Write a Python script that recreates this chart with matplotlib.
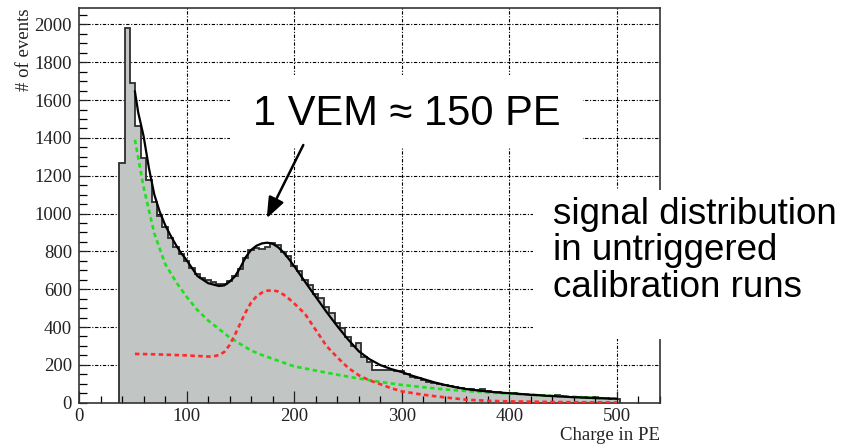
import numpy as np
import matplotlib
matplotlib.use("Agg")
import matplotlib.pyplot as plt
from matplotlib.patches import Rectangle, FancyArrowPatch
from matplotlib.ticker import MultipleLocator

# ---------------- data ----------------
bin_edges = np.arange(37.5, 503, 5.0)  # 93 bins, width 5 PE
hist_counts = [
    1265, 1980, 1690, 1462, 1292, 1177, 1060, 985, 930, 870,
    825, 785, 750, 712, 678, 660, 648, 638, 628, 625,
    645, 672, 705, 765, 805, 820, 815, 822, 845, 832,
    795, 775, 725, 695, 650, 622, 575, 552, 505, 472,
    420, 395, 349, 300, 314, 243, 217, 173, 173, 173,
    175, 170, 168, 150, 138, 130, 122, 112, 105, 98,
    92, 88, 82, 78, 74, 70, 66, 70, 60, 58,
    55, 53, 52, 50, 47, 45, 43, 41, 40, 38,
    36, 40, 34, 32, 31, 29, 28, 27, 32, 25,
    24, 22, 20,
]

fit_x = [52, 55, 60, 65, 70, 75, 80, 85, 90, 95, 100, 110, 120, 130, 135, 140, 145,
         150, 155, 160, 165, 170, 175, 180, 185, 190, 195, 200, 210, 220, 230, 240,
         250, 260, 270, 280, 290, 300, 310, 320, 330, 340, 350, 360, 370, 380, 390,
         400, 420, 440, 460, 480, 500]
fit_y = [1645, 1535, 1410, 1240, 1100, 1010, 940, 885, 835, 790, 754, 670, 632, 617,
         620, 640, 668, 715, 770, 808, 830, 842, 846, 840, 822, 795, 760, 722, 640,
         560, 480, 405, 335, 272, 230, 199, 178, 162, 142, 125, 108, 94, 82, 72, 65,
         59, 54, 50, 42, 35, 29, 24, 21]

bg_x = [52, 60, 70, 80, 90, 100, 110, 120, 130, 140, 150, 160, 170, 180, 190, 200,
        220, 240, 260, 280, 300, 320, 340, 360, 380, 400, 420, 440, 460, 480, 500]
bg_y = [1390, 1140, 895, 735, 640, 560, 490, 435, 390, 345, 310, 276, 252, 232, 212,
        192, 170, 148, 128, 110, 94, 82, 70, 62, 54, 48, 42, 36, 31, 26, 20]

vem_x = [52, 60, 70, 80, 90, 100, 110, 120, 125, 130, 135, 140, 145, 150, 155, 160,
         165, 170, 175, 180, 185, 190, 195, 200, 210, 220, 230, 240, 250, 260, 270,
         280, 290, 300, 320, 340, 360, 380, 400, 450, 500]
vem_y = [258, 257, 256, 254, 252, 250, 247, 244, 245, 252, 268, 305, 360, 420, 480,
         530, 562, 582, 592, 594, 588, 572, 550, 525, 470, 385, 300, 240, 185, 145,
         118, 98, 77, 60, 42, 28, 16, 10, 7, 3, 1]

x_ticks = [0, 100, 200, 300, 400, 500]
y_ticks = [0, 200, 400, 600, 800, 1000, 1200, 1400, 1600, 1800, 2000]

# ---------------- figure ----------------
W, H = 854, 445
fig = plt.figure(figsize=(W / 100, H / 100), dpi=100)
fig.patch.set_facecolor("white")

ax_l, ax_r, ax_t, ax_b = 79, 660, 8.3, 402.7
ax = fig.add_axes([ax_l / W, 1 - ax_b / H, (ax_r - ax_l) / W, (ax_b - ax_t) / H])
ax.set_xlim(0, 540)
ax.set_ylim(0, 2085)

serif = ["Liberation Serif", "DejaVu Serif"]
sans = ["Liberation Sans", "DejaVu Sans"]

# grid
grid_ls = (0, (3, 1.5, 1, 1.5))
for xv in x_ticks[1:]:
    ax.axvline(xv, color="black", lw=0.8, ls=grid_ls, zorder=0.5)
for yv in y_ticks[1:]:
    ax.axhline(yv, color="black", lw=0.8, ls=grid_ls, zorder=0.5)

# histogram
ax.stairs(hist_counts, bin_edges, fill=True, color="#c1c5c4", zorder=1, baseline=0)
ax.stairs(hist_counts, bin_edges, color="#2e2e2e", lw=1.3, zorder=2, baseline=0)

# fit components
ax.plot(bg_x, bg_y, color="#1ee01e", lw=1.9, ls=(0, (1.7, 1.3)), zorder=3)
ax.plot(vem_x, vem_y, color="#ff2a2a", lw=1.9, ls=(0, (1.7, 1.3)), zorder=3)
ax.plot(fit_x, fit_y, color="black", lw=1.6, zorder=4)

# axes styling
for s in ax.spines.values():
    s.set_linewidth(1.2)
    s.set_color("#333333")
ax.set_xticks(x_ticks)
ax.set_yticks(y_ticks)
ax.xaxis.set_minor_locator(MultipleLocator(20))
ax.yaxis.set_minor_locator(MultipleLocator(50))
ax.tick_params(axis="x", which="major", direction="in", length=8.6, width=0.9,
               pad=4, labelsize=13.5, colors="#222222", top=False)
ax.tick_params(axis="x", which="minor", direction="in", length=4.8, width=0.9, top=False)
ax.tick_params(axis="y", which="major", direction="in", length=5.8, width=0.9,
               pad=5, labelsize=13.5, colors="#222222", right=False)
ax.tick_params(axis="y", which="minor", direction="in", length=5.8, width=0.9, right=False)
for lab in ax.get_xticklabels() + ax.get_yticklabels():
    lab.set_fontfamily(serif)

fig.text(25 / W, 1 - 8.3 / H, "# of events", rotation=90, ha="center", va="top",
         fontsize=13.5, family=serif, color="#222222")
fig.text(660 / W, 1 - 435 / H, "Charge in PE", ha="right", va="center",
         fontsize=13.5, family=serif, color="#222222")

# white text boxes (overlay)
fig.patches.append(Rectangle((230 / W, 1 - 147 / H), (583 - 230) / W, (147 - 75) / H,
                             transform=fig.transFigure, facecolor="white",
                             edgecolor="none", zorder=5))
fig.patches.append(Rectangle((533 / W, 1 - 339 / H), (W - 533) / W, (339 - 190) / H,
                             transform=fig.transFigure, facecolor="white",
                             edgecolor="none", zorder=5))

fig.text(406.7 / W, 1 - 114 / H, "1 VEM ≈ 150 PE", ha="center", va="center",
         fontsize=30, family=sans, color="black", zorder=6)

lines = ["signal distribution", "in untriggered", "calibration runs"]
baselines = [223.5, 260.5, 297]
for t, b in zip(lines, baselines):
    fig.text(553 / W, 1 - b / H, t, ha="left", va="baseline", fontsize=26.5,
             family=sans, color="black", zorder=6)

fig.add_artist(FancyArrowPatch(
    (303.3, H - 145), (266.7, H - 218.3), transform=None,
    arrowstyle="-|>,head_length=0.9,head_width=0.35", mutation_scale=14,
    lw=1.8, color="black", shrinkA=0, shrinkB=0, zorder=7))

fig.savefig("out.png", dpi=100, facecolor="white")
